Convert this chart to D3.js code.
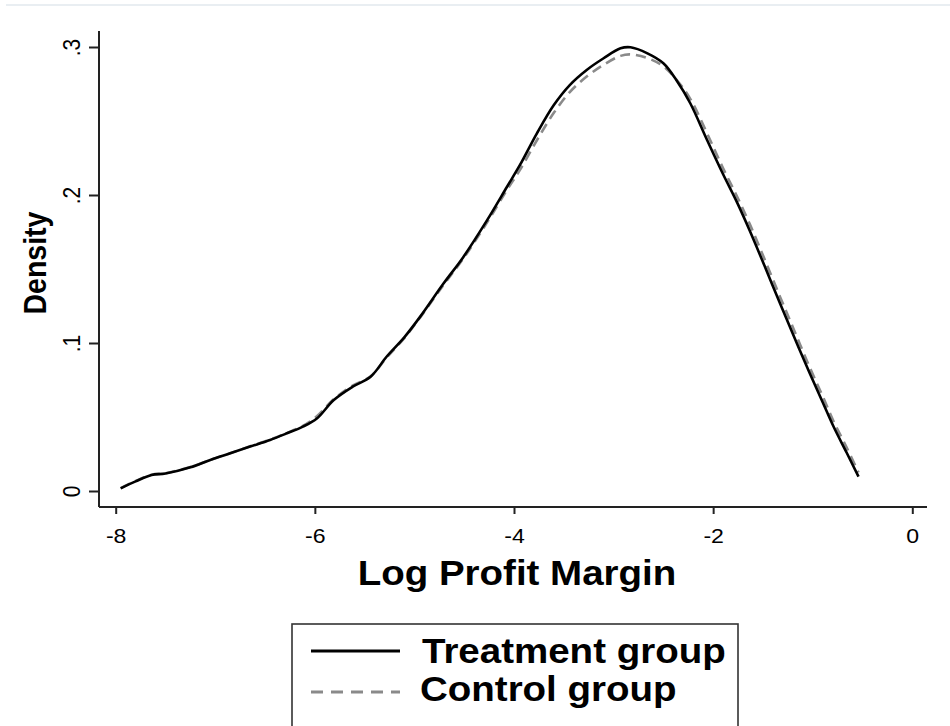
<!DOCTYPE html>
<html>
<head>
<meta charset="utf-8">
<script src="https://cdn.jsdelivr.net/npm/d3@7/dist/d3.min.js"></script>
<style>
  html, body { margin: 0; padding: 0; background: #ffffff; }
  svg { display: block; }
  text { font-family: Arial, "Liberation Sans", Helvetica, sans-serif; fill: #000; }
</style>
</head>
<body>
<svg id="chart" width="950" height="726"></svg>
<script>
// Kernel density estimates of log profit margin, evaluated on a common grid
const logMargin = [-7.95, -7.80, -7.64, -7.50, -7.25, -7.05, -6.85, -6.65, -6.45, -6.28,
                   -6.12, -5.98, -5.81, -5.62, -5.44, -5.28, -5.10, -4.94, -4.71, -4.51,
                   -4.27, -4.07, -3.94, -3.77, -3.60, -3.44, -3.27, -3.10, -2.93, -2.83,
                   -2.66, -2.50, -2.37, -2.23, -2.06, -1.90, -1.76, -1.63, -1.48, -1.33,
                   -1.18, -1.03, -0.90, -0.79, -0.66, -0.54];

const treatmentDensity = [0.0018, 0.0065, 0.0108, 0.0118, 0.0160, 0.0210, 0.0255, 0.0300, 0.0345, 0.0390,
                          0.0435, 0.0490, 0.0615, 0.0705, 0.0772, 0.0907, 0.1040, 0.1180, 0.1400, 0.1580,
                          0.1830, 0.2056, 0.2203, 0.2417, 0.2608, 0.2743, 0.2845, 0.2924, 0.2991, 0.2998,
                          0.2957, 0.2890, 0.2777, 0.2620, 0.2370, 0.2140, 0.1950, 0.1755, 0.1515, 0.1270,
                          0.1030, 0.0795, 0.0600, 0.0434, 0.0260, 0.0097];

const controlDensity = [0.0020, 0.0068, 0.0110, 0.0120, 0.0162, 0.0210, 0.0255, 0.0302, 0.0348, 0.0392,
                        0.0440, 0.0505, 0.0620, 0.0712, 0.0775, 0.0900, 0.1035, 0.1175, 0.1390, 0.1570,
                        0.1815, 0.2035, 0.2170, 0.2370, 0.2555, 0.2695, 0.2800, 0.2880, 0.2940, 0.2950,
                        0.2925, 0.2870, 0.2780, 0.2650, 0.2415, 0.2180, 0.1990, 0.1800, 0.1560, 0.1315,
                        0.1075, 0.0835, 0.0640, 0.0470, 0.0295, 0.0125];

const xTicks = [-8, -6, -4, -2, 0];
const xTickLabels = ["-8", "-6", "-4", "-2", "0"];
const yTicks = [0, 0.1, 0.2, 0.3];
const yTickLabels = ["0", ".1", ".2", ".3"];

const seriesNames = ["Treatment group", "Control group"];

const svg = d3.select("#chart");
const stretch = 1.1; // horizontal text widening

// faint rule along the top edge
svg.append("line")
  .attr("x1", 6).attr("x2", 950).attr("y1", 5).attr("y2", 5)
  .attr("stroke", "#e9eef2").attr("stroke-width", 2);

const x = d3.scaleLinear().domain([-8, 0]).range([115.7, 912.3]);
const y = d3.scaleLinear().domain([0, 0.3]).range([491, 47]);

const axisX = 99, axisY = 507;

// axis lines
svg.append("line")
  .attr("x1", axisX).attr("x2", axisX).attr("y1", 31).attr("y2", axisY)
  .attr("stroke", "#222").attr("stroke-width", 2);
svg.append("line")
  .attr("x1", axisX).attr("x2", 927).attr("y1", axisY).attr("y2", axisY)
  .attr("stroke", "#222").attr("stroke-width", 2);

// x axis ticks and labels
const gx = svg.append("g").attr("transform", `translate(0,${axisY})`)
  .call(d3.axisBottom(x).tickValues(xTicks).tickSize(7)
    .tickFormat((d, i) => xTickLabels[i]));
gx.select(".domain").remove();
gx.selectAll(".tick line").attr("stroke", "#222").attr("stroke-width", 2);
gx.selectAll(".tick text")
  .attr("y", 36).attr("dy", null)
  .attr("font-size", 21)
  .attr("font-family", "Arial, 'Liberation Sans', sans-serif")
  .attr("fill", "#000")
  .attr("transform", `scale(${stretch},1)`)
  .attr("x", 0);

// y axis ticks and rotated labels
const gy = svg.append("g").attr("transform", `translate(${axisX},0)`)
  .call(d3.axisLeft(y).tickValues(yTicks).tickSize(10)
    .tickFormat((d, i) => yTickLabels[i]));
gy.select(".domain").remove();
gy.selectAll(".tick line").attr("stroke", "#222").attr("stroke-width", 2);
gy.selectAll(".tick text")
  .attr("x", null).attr("dy", null)
  .attr("text-anchor", "middle")
  .attr("font-size", 21)
  .attr("font-family", "Arial, 'Liberation Sans', sans-serif")
  .attr("fill", "#000")
  .attr("transform", `translate(-19,0) scale(${stretch},1) rotate(-90)`);

// axis titles
svg.append("text")
  .attr("transform", `translate(517,585) scale(${stretch},1)`)
  .attr("text-anchor", "middle")
  .attr("font-size", 35).attr("font-weight", "bold")
  .text("Log Profit Margin");

svg.append("text")
  .attr("transform", `translate(46,263) scale(${stretch},1) rotate(-90)`)
  .attr("text-anchor", "middle")
  .attr("font-size", 28.5).attr("font-weight", "bold")
  .text("Density");

// density curves
const line = d3.line()
  .x((d, i) => x(logMargin[i]))
  .y(d => y(d))
  .curve(d3.curveCatmullRom.alpha(0.5));

svg.append("path")
  .datum(controlDensity)
  .attr("d", line)
  .attr("fill", "none")
  .attr("stroke", "#8a8a8a")
  .attr("stroke-width", 2.6)
  .attr("stroke-dasharray", "10,6");

svg.append("path")
  .datum(treatmentDensity)
  .attr("d", line)
  .attr("fill", "none")
  .attr("stroke", "#000")
  .attr("stroke-width", 2.6)
  .attr("stroke-linejoin", "round");

// legend
const legend = svg.append("g");
legend.append("rect")
  .attr("x", 292).attr("y", 624).attr("width", 446).attr("height", 140)
  .attr("fill", "#fff").attr("stroke", "#333").attr("stroke-width", 1.6);

const legendStyles = [
  { stroke: "#000", dash: null, ly: 651, ty: 663, tx: 422 },
  { stroke: "#8a8a8a", dash: "12,8", ly: 692, ty: 701, tx: 420 }
];
seriesNames.forEach((name, i) => {
  const s = legendStyles[i];
  legend.append("line")
    .attr("x1", 311).attr("x2", 400).attr("y1", s.ly).attr("y2", s.ly)
    .attr("stroke", s.stroke).attr("stroke-width", 3)
    .attr("stroke-dasharray", s.dash);
  legend.append("text")
    .attr("transform", `translate(${s.tx},${s.ty}) scale(${stretch},1)`)
    .attr("font-size", 35).attr("font-weight", "bold")
    .text(name);
});
</script>
</body>
</html>
